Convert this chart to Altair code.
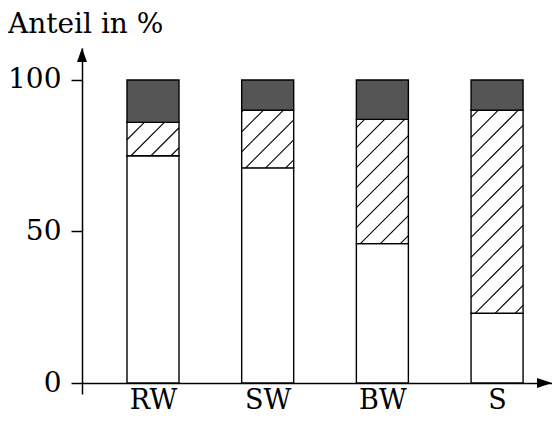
import json

import altair as alt
import pandas as pd

categories = ['RW', 'SW', 'BW', 'S']
white_share = [75, 71, 46, 23]
hatched_share = [11, 19, 41, 67]
dark_share = [14, 10, 13, 10]
y_ticks = [0, 50, 100]
y_title = 'Anteil in %'

FONT = 'DejaVu Serif'
PAD_L, PAD_T = 74, 40
W, H = 470, 346
X_DOM = [-0.619, 3.479]
Y_DOM = [-3.63, 110.56]
PX = W / (X_DOM[1] - X_DOM[0])   # pixels per category step
PY = H / (Y_DOM[1] - Y_DOM[0])   # pixels per percent
HALF = 26 / PX                   # half bar width in x units
HATCH_STEP = 20                  # px between hatch lines
HATCH_PHASE = 8

df = pd.DataFrame({
    'cat': categories,
    'idx': list(range(len(categories))),
    'white': white_share,
    'hatched': hatched_share,
    'dark': dark_share,
})

x_scale = alt.Scale(domain=X_DOM, nice=False, zero=False)
y_scale = alt.Scale(domain=Y_DOM, nice=False, zero=False)

label_expr = json.dumps(categories) + '[datum.value]'

base = alt.Chart(df).transform_calculate(
    xl=f'datum.idx - {HALF}',
    xr=f'datum.idx + {HALF}',
    b0='0',
    b1='datum.white',
    b2='datum.white + datum.hatched',
    b3='datum.white + datum.hatched + datum.dark',
)


def segment(lo, hi, fill, with_axes=False):
    if with_axes:
        x = alt.X('xl:Q', scale=x_scale, title=None,
                  axis=alt.Axis(values=list(range(len(categories))), labelExpr=label_expr,
                                ticks=False, tickSize=0, grid=False, offset=-11,
                                domainColor='black', domainWidth=1.5,
                                labelPadding=25, labelBaseline='alphabetic',
                                labelFontSize=27))
        y = alt.Y(f'{lo}:Q', scale=y_scale, title=None,
                  axis=alt.Axis(values=y_ticks, grid=False, tickSize=11, tickColor='black',
                                tickWidth=1.5, domainColor='black', domainWidth=1.5,
                                labelPadding=10, labelFontSize=28))
    else:
        x = alt.X('xl:Q', scale=x_scale)
        y = alt.Y(f'{lo}:Q', scale=y_scale)
    return base.mark_rect(fill=fill, stroke='black', strokeWidth=1.4).encode(
        x=x, x2='xr:Q', y=y, y2=f'{hi}:Q'
    )


white_bars = segment('b0', 'b1', 'white', with_axes=True)
hatch_bars = segment('b1', 'b2', 'white')
dark_bars = segment('b2', 'b3', '#555555')

# diagonal hatching, clipped to each hatched segment (computed in pixel space)
hatch = base.transform_calculate(
    wb=f'2 * {HALF} * {PX}',
    hh=f'(datum.b2 - datum.b1) * {PY}',
    ks='sequence(0, 40)',
).transform_flatten(['ks']).transform_calculate(
    c=f'-datum.wb + {HATCH_PHASE} + datum.ks * {HATCH_STEP}',
).transform_calculate(
    us='max(0, -datum.c)',
    ue='min(datum.wb, datum.hh - datum.c)',
).transform_filter('datum.us < datum.ue').transform_calculate(
    xa=f'datum.xl + datum.us / {PX}',
    ya=f'datum.b1 + (datum.us + datum.c) / {PY}',
    xb=f'datum.xl + datum.ue / {PX}',
    yb=f'datum.b1 + (datum.ue + datum.c) / {PY}',
).mark_rule(color='black', strokeWidth=1.1).encode(
    x=alt.X('xa:Q', scale=x_scale),
    y=alt.Y('ya:Q', scale=y_scale),
    x2='xb:Q',
    y2='yb:Q',
)

one = pd.DataFrame({'a': [0]})
arrow_up = alt.Chart(one).mark_point(
    shape='M0,0L0.357,1L-0.357,1Z', size=784, filled=True, color='black',
    opacity=1, strokeWidth=0,
).encode(x=alt.value(0), y=alt.value(0))
arrow_right = alt.Chart(one).mark_point(
    shape='M0,0L-1,-0.333L-1,0.333Z', size=900, filled=True, color='black',
    opacity=1, strokeWidth=0,
).encode(x=alt.value(W), y=alt.value(H - 11))

# axis caption sits top-left, above the arrow
caption = alt.Chart(one).mark_text(
    text=y_title, align='left', baseline='alphabetic', font=FONT, fontSize=28,
    color='black',
).encode(x=alt.value(-PAD_L), y=alt.value(-15))

chart = alt.layer(
    white_bars, hatch_bars, dark_bars, hatch, arrow_up, arrow_right, caption
).properties(
    width=W,
    height=H,
    background='white',
    autosize=alt.AutoSizeParams(type='none'),
    padding={'left': PAD_L, 'top': PAD_T, 'right': 0, 'bottom': 21},
).configure_view(
    stroke=None
).configure_axis(
    labelFont=FONT, labelColor='black'
)

chart.save("out.html", embed_options={"renderer": "svg", "actions": False})
